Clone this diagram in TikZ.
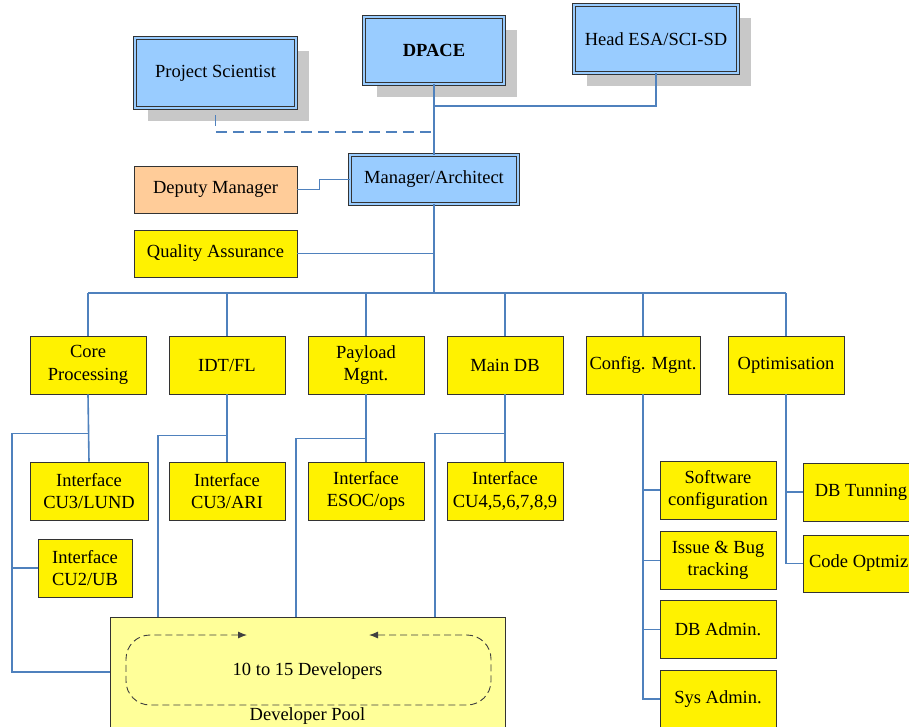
\documentclass[tikz,border=0pt]{standalone}
\usepackage{fontspec}
\setmainfont{Liberation Serif}
\usetikzlibrary{shadows,arrows.meta}
\definecolor{skyblue}{HTML}{99CCFF}
\definecolor{peach}{HTML}{FFCC99}
\definecolor{paleyellow}{HTML}{FFFF99}
\definecolor{linkblue}{HTML}{4F81BD}
\definecolor{shadowgray}{HTML}{C8C8C8}
\tikzset{
    box/.style={draw=black!80, line width=0.8pt, align=center, inner sep=1pt,
        font=\fontsize{18.5}{22.5}\selectfont},
    % management boxes have a double frame
    lead/.style={box, fill=skyblue, double=skyblue, double distance=2pt},
    board/.style={lead, drop shadow={shadow xshift=13pt, shadow yshift=-13pt,
        fill=shadowgray, draw=none, opacity=1}},
    unit/.style={box, fill=yellow, minimum width=116pt, minimum height=58pt},
    link/.style={draw=linkblue, line width=1.6pt},
    trunk/.style={link, line width=2.6pt}
}
\begin{document}
\begin{tikzpicture}[x=1pt, y=-1pt]
    \useasboundingbox (0,0) rectangle (909,726);
    \clip (0,0) rectangle (909,726);

    % top level
    \node[board, minimum width=161pt, minimum height=70pt] (ps) at (215.5,73) {Project Scientist};
    \node[board, minimum width=140pt, minimum height=67pt] (dpace) at (434,50.5) {\textbf{DPACE}};
    \node[board, minimum width=164pt, minimum height=68pt] (head) at (656,39) {Head ESA/SCI-SD};
    \node[lead, minimum width=168pt, minimum height=49pt] (mgr) at (434,179.5) {Manager/Architect};
    \node[box, fill=peach, minimum width=163pt, minimum height=47pt] (deputy) at (215.5,189.5) {Deputy Manager};
    \node[box, fill=yellow, minimum width=163pt, minimum height=47pt] (qa) at (215.5,253.5) {Quality Assurance};

    \coordinate (headjoin) at (434,106);
    \coordinate (psjoin) at (434,132);
    \coordinate (bus) at (434,293);
    \draw[link] (dpace.south) -- (mgr.north);
    \draw[link] (head.south) |- (headjoin);
    \draw[link, dash pattern=on 11pt off 6pt] ([yshift=-7pt]ps.south) |- (psjoin);
    \draw[link] (deputy.east) -- ++(22,0) |- (mgr.west);
    \draw[trunk] (mgr.south) -- (bus);
    \draw[link] (qa.east) -- (qa.east -| mgr.south);

    % work packages
    \node[unit] (core) at (88,365) {Core\\Processing};
    \node[unit] (idt) at (227,365) {IDT/FL};
    \node[unit] (payload) at (366,365) {Payload\\Mgnt.};
    \node[unit] (maindb) at (505,365) {Main DB};
    \node[unit, minimum width=114pt] (config) at (643,365) {Config. Mgnt.};
    \node[unit] (optim) at (786,365) {Optimisation};

    \draw[link] (core.north |- bus) -- (optim.north |- bus);
    \foreach \n in {core,idt,payload,maindb,config,optim}
        \draw[link] (\n.north) -- (\n.north |- bus);

    % interfaces
    \node[unit, minimum width=118pt] (lund) at (89,491) {Interface\\CU3/LUND};
    \node[unit] (ari) at (227,491) {Interface\\CU3/ARI};
    \node[unit] (esoc) at (366,491) {Interface\\ESOC/ops};
    \node[unit] (cuall) at (505,491) {Interface\\CU4,5,6,7,8,9};
    \node[unit, minimum width=94pt] (cutwo) at (85,568) {Interface\\CU2/UB};

    \foreach \n/\m in {core/lund,idt/ari,payload/esoc,maindb/cuall}
        \draw[link] (\n.south) -- (\m.north);

    % developer pool
    \node[box, fill=paleyellow, minimum width=395pt, minimum height=110pt] (pool) at (307.5,672) {};
    \node[font=\fontsize{18.5}{22.5}\selectfont] (devs) at (307.5,671) {10 to 15 Developers};
    \node[font=\fontsize{18.5}{22.5}\selectfont] (poolname) at (307.5,716) {Developer Pool};
    \draw[black!75, line width=0.9pt, dash pattern=on 7pt off 4pt, rounded corners=24pt,
        {Latex[length=9pt,width=7pt]}-{Latex[length=9pt,width=7pt]}]
        (247,635) -- (126,635) -- (126,705) -- (491,705) -- (491,635) -- (369,635);

    \coordinate (rail) at (12,672);
    \coordinate (idtdrop) at (158,617);
    \coordinate (payloaddrop) at (296,617);
    \coordinate (maindbdrop) at (435,617);
    \draw[link] (core.south) ++(0,39) -| (rail) -- (pool.west);
    \draw[link] (cutwo.west) -- (cutwo.west -| rail);
    \draw[link] (idt.south) ++(0,41) -| (idtdrop);
    \draw[link] (payload.south) ++(0,44) -| (payloaddrop);
    \draw[link] (maindb.south) ++(0,39) -| (maindbdrop);

    % support tasks
    \node[unit] (swconf) at (718,490) {Software\\configuration};
    \node[unit] (issues) at (718,560.5) {Issue \& Bug\\tracking};
    \node[unit] (dbadmin) at (718,629.5) {DB Admin.};
    \node[unit] (sysadmin) at (718,699) {Sys Admin.};
    \node[unit] (dbtune) at (861,492) {DB Tunning};
    \node[unit, minimum height=57pt] (codeopt) at (861,563.5) {Code Optmiz.};

    \draw[link] (config.south) |- (sysadmin.west);
    \foreach \n in {swconf,issues,dbadmin}
        \draw[link] (\n.west) -- (\n.west -| config.south);
    \draw[link] (optim.south) |- (codeopt.west);
    \draw[link] (dbtune.west) -- (dbtune.west -| optim.south);
\end{tikzpicture}
\end{document}
